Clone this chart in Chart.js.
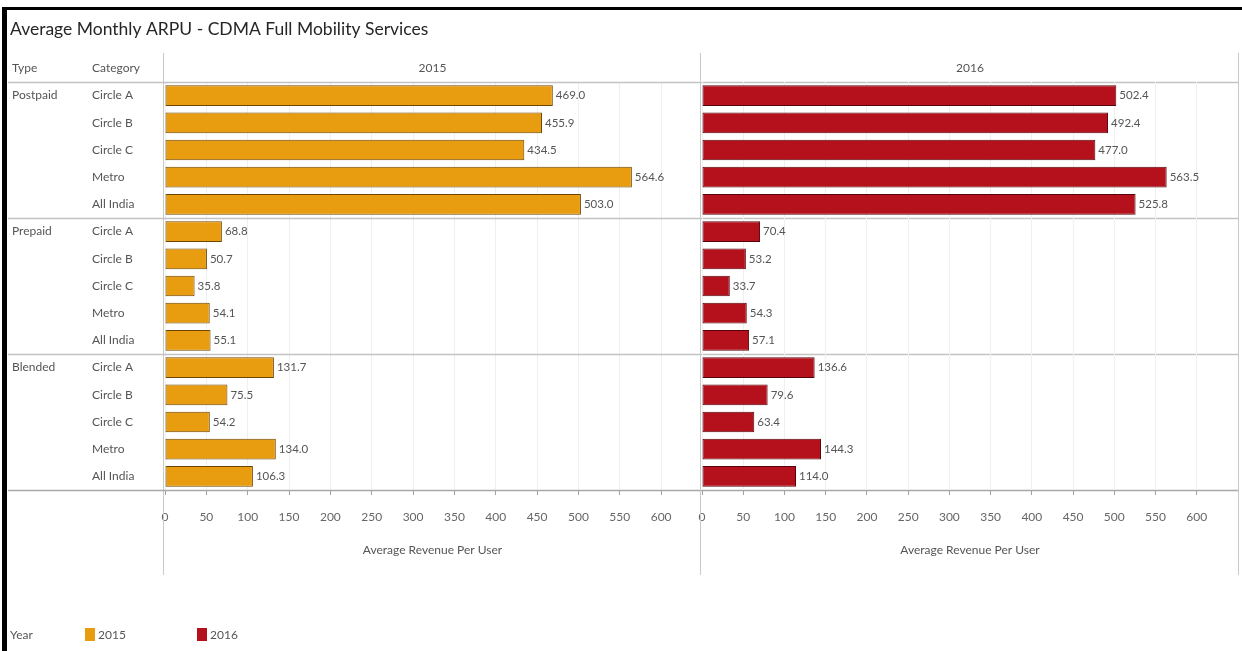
<!DOCTYPE html>
<html>
<head>
<meta charset="utf-8">
<title>Average Monthly ARPU - CDMA Full Mobility Services</title>
<script src="https://cdn.jsdelivr.net/npm/chart.js@4.4.1/dist/chart.umd.min.js"></script>
<style>
  html, body { margin: 0; padding: 0; background: #ffffff; }
  #wrap { position: relative; width: 1242px; height: 651px; overflow: hidden; background: #ffffff; }
  #wrap canvas { position: absolute; left: 0; top: 0; }
</style>
</head>
<body>
<div id="wrap">
  <canvas id="c2015" width="1242" height="651"></canvas>
  <canvas id="c2016" width="1242" height="651"></canvas>
</div>
<script>
// ---- data ----
const chartTitle = 'Average Monthly ARPU - CDMA Full Mobility Services';
const types = ['Postpaid', 'Prepaid', 'Blended'];
const categories = ['Circle A', 'Circle B', 'Circle C', 'Metro', 'All India'];
const years = ['2015', '2016'];
const arpu2015 = [469.0, 455.9, 434.5, 564.6, 503.0,  68.8, 50.7, 35.8, 54.1, 55.1,  131.7, 75.5, 54.2, 134.0, 106.3];
const arpu2016 = [502.4, 492.4, 477.0, 563.5, 525.8,  70.4, 53.2, 33.7, 54.3, 57.1,  136.6, 79.6, 63.4, 144.3, 114.0];
const xTickValues = [0, 50, 100, 150, 200, 250, 300, 350, 400, 450, 500, 550, 600];
const xAxisTitle = 'Average Revenue Per User';
const headerType = 'Type';
const headerCategory = 'Category';
const legendTitle = 'Year';

// ---- styling ----
const FONT = 'Lato, "DejaVu Sans", sans-serif';
const yearColors = { '2015': '#E89D10', '2016': '#B5111C' };
const yearBorders = { '2015': '#6e4402', '2016': '#55040a' };
const TOP = 82, AXIS_Y = 490, AXIS_H = 80, H = 651;
const LINE_LEFT = 8, LINE_RIGHT = 1238;

const rowLabels = types.flatMap(t => categories.map(c => t + ' / ' + c));

function drawText(ctx, txt, x, y, size, color, align, weight) {
  ctx.save();
  ctx.font = (weight || 'normal') + ' ' + size + 'px ' + FONT;
  ctx.fillStyle = color;
  ctx.textAlign = align || 'left';
  ctx.textBaseline = 'middle';
  ctx.fillText(txt, x, y);
  ctx.restore();
}
function hLine(ctx, x1, x2, y, color, w) {
  ctx.save(); ctx.strokeStyle = color; ctx.lineWidth = w || 1;
  ctx.beginPath(); ctx.moveTo(x1, y); ctx.lineTo(x2, y); ctx.stroke(); ctx.restore();
}
function vLine(ctx, x, y1, y2, color, w) {
  ctx.save(); ctx.strokeStyle = color; ctx.lineWidth = w || 1;
  ctx.beginPath(); ctx.moveTo(x, y1); ctx.lineTo(x, y2); ctx.stroke(); ctx.restore();
}

// value labels at the end of each bar, headers and panel frame
const panelDecor = {
  id: 'panelDecor',
  afterDraw(chart, args, opts) {
    const ctx = chart.ctx;
    const area = chart.chartArea;
    const yScale = chart.scales.y;
    const rowH = (yScale.bottom - yScale.top) / rowLabels.length;

    // panel header
    drawText(ctx, opts.year, (area.left + area.right) / 2, 68, 12, '#555', 'center');
    // axis title
    drawText(ctx, xAxisTitle, (area.left + area.right) / 2, 550, 12, '#555', 'center');
    // panel dividers
    vLine(ctx, Math.round(area.left) - 1.5, 53, 575, '#c9c9c9', 1);
    if (opts.last) vLine(ctx, LINE_RIGHT + 0.5, 53, 575, '#c9c9c9', 1);

    // bar value labels
    const meta = chart.getDatasetMeta(0);
    const values = chart.data.datasets[0].data;
    meta.data.forEach((bar, i) => {
      drawText(ctx, values[i].toFixed(1), bar.x + 3, bar.y, 11.5, '#555', 'left');
    });

    if (!opts.main) return;

    // title
    drawText(ctx, chartTitle, 10, 29, 17.5, '#262626', 'left');
    // table headers
    drawText(ctx, headerType, 12, 68, 12, '#555', 'left');
    drawText(ctx, headerCategory, 92, 68, 12, '#555', 'left');
    hLine(ctx, LINE_LEFT, LINE_RIGHT, TOP + 0.5, '#c3c3c3', 1.5);

    // row labels
    rowLabels.forEach((lbl, i) => {
      const y = yScale.getPixelForValue(i);
      const cat = categories[i % categories.length];
      drawText(ctx, cat, 92, y, 12, '#555', 'left');
      if (i % categories.length === 0) {
        drawText(ctx, types[i / categories.length], 12, y, 12, '#555', 'left');
      }
    });
    // group separators
    for (let g = 1; g < types.length; g++) {
      const y = yScale.getPixelForValue(g * categories.length) - rowH / 2;
      hLine(ctx, LINE_LEFT, LINE_RIGHT, Math.round(y) + 0.5, '#c3c3c3', 1.5);
    }
    // axis baseline
    hLine(ctx, LINE_LEFT, LINE_RIGHT, Math.round(yScale.bottom) + 0.5, '#a9a9a9', 1.5);

    // legend
    drawText(ctx, legendTitle, 10, 635, 12, '#555', 'left');
    const legendX = [85, 197];
    years.forEach((yr, k) => {
      ctx.save();
      ctx.fillStyle = yearColors[yr];
      ctx.fillRect(legendX[k], 628, 10, 13);
      ctx.restore();
      drawText(ctx, yr, legendX[k] + 13, 635, 12, '#555', 'left');
    });

    // outer frame strokes
    ctx.save();
    ctx.fillStyle = '#000';
    ctx.fillRect(2, 7, 1240, 3);
    ctx.fillRect(2, 7, 5, 644);
    ctx.restore();
  }
};

function makeChart(canvasId, year, values, padLeft, padRight, maxVal, main, last) {
  return new Chart(document.getElementById(canvasId), {
    type: 'bar',
    data: {
      labels: rowLabels,
      datasets: [{
        label: year,
        data: values,
        backgroundColor: yearColors[year],
        borderColor: yearBorders[year],
        borderWidth: 1,
        borderSkipped: false,
        barPercentage: 0.76,
        categoryPercentage: 1.0
      }]
    },
    options: {
      indexAxis: 'y',
      responsive: false,
      animation: false,
      layout: { padding: { left: padLeft, right: padRight, top: TOP, bottom: H - AXIS_Y - AXIS_H } },
      plugins: {
        legend: { display: false },
        tooltip: { enabled: false },
        title: { display: false },
        panelDecor: { year: year, main: main, last: last }
      },
      scales: {
        y: { type: 'category', display: false, offset: true },
        x: {
          type: 'linear',
          position: 'bottom',
          min: 0,
          max: maxVal,
          afterBuildTicks: (scale) => { scale.ticks = xTickValues.map(v => ({ value: v })); },
          afterFit: (scale) => { scale.height = AXIS_H; },
          border: { display: false },
          grid: {
            color: '#efefef',
            tickColor: '#a0a0a0',
            tickLength: 5,
            drawTicks: true
          },
          ticks: {
            color: '#666',
            padding: 15,
            maxRotation: 0,
            autoSkip: false,
            font: { family: FONT, size: 12 }
          }
        }
      }
    },
    plugins: [panelDecor]
  });
}

makeChart('c2015', years[0], arpu2015, 165, 542, 647, true, false);
makeChart('c2016', years[1], arpu2016, 702, 1242 - LINE_RIGHT, 650, false, true);
</script>
</body>
</html>
